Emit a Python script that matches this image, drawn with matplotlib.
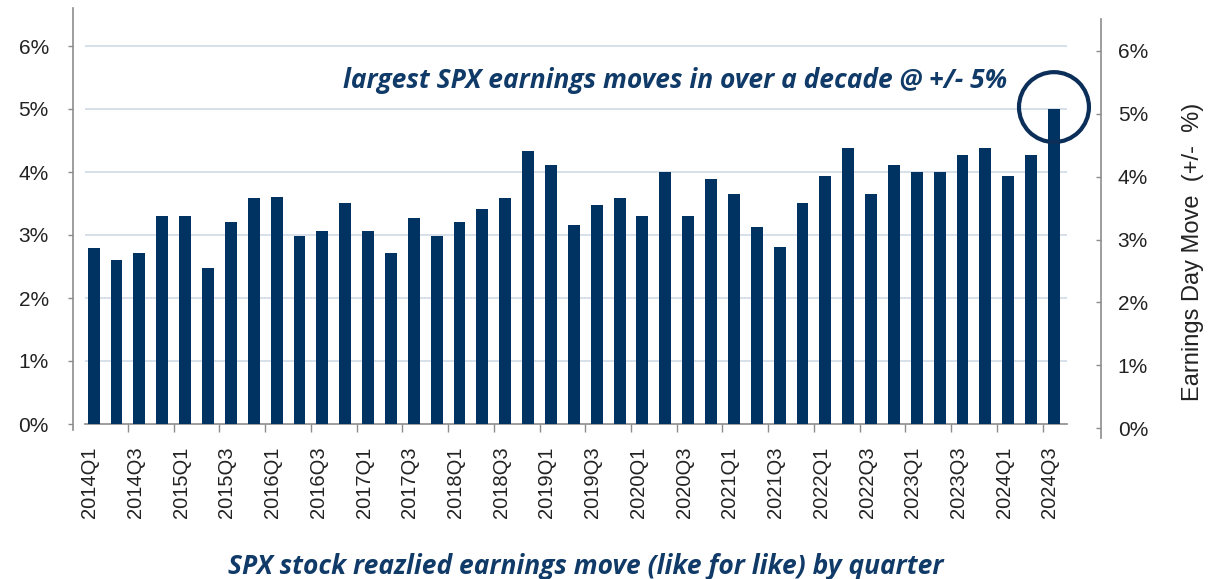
import matplotlib
matplotlib.use("Agg")
import matplotlib.pyplot as plt
import matplotlib.transforms as mtransforms
from matplotlib.patches import Ellipse
import numpy as np

# quarters 2014Q1 .. 2024Q3
quarters = [f"{y}Q{q}" for y in range(2014, 2025) for q in range(1, 5)][:43]

# avg realized earnings-day move (+/- %)
moves = [2.80, 2.61, 2.71, 3.30, 3.30, 2.47, 3.20, 3.58, 3.61, 2.99,
         3.06, 3.51, 3.06, 2.71, 3.27, 2.99, 3.20, 3.41, 3.58, 4.34,
         4.11, 3.16, 3.48, 3.58, 3.30, 4.00, 3.30, 3.89, 3.65, 3.13,
         2.81, 3.51, 3.93, 4.38, 3.65, 4.11, 4.00, 4.00, 4.27, 4.38,
         3.93, 4.27, 5.00]

pct_ticks = [0, 1, 2, 3, 4, 5, 6]
pct_labels = [f"{t}%" for t in pct_ticks]

title_txt = "largest SPX earnings moves in over a decade @ +/- 5%"
xlab_txt = "SPX stock reazlied earnings move (like for like) by quarter"
ylab_txt = "Earnings Day Move  (+/-  %)"

navy = "#003362"
txt_navy = "#103A68"
grey = "#8C8C8C"
grid_c = "#D4DEE8"
lab_c = "#222222"

plt.rcParams["font.family"] = ["Liberation Sans", "DejaVu Sans"]

W, H = 1211, 579
fig = plt.figure(figsize=(W / 100, H / 100), dpi=100)
ax = fig.add_axes([85 / W, 1 - 430.3 / H, (1067 - 85) / W, (430.3 - 8.2) / H])

x = np.arange(len(moves))
ax.bar(x, moves, width=0.52, color=navy, zorder=3)

ax.set_xlim(-0.38, 42.57)
ax.set_ylim(-0.1, 6.6)

# gridlines
for t in pct_ticks[1:]:
    ax.axhline(t, color=grid_c, lw=1.3, zorder=1)

# x axis: labels on Q1/Q3, tick marks between pairs
ax.set_xticks(x[::2])
ax.set_xticklabels(quarters[::2])
ax.set_xticks(np.arange(1.5, 42, 2), minor=True)
ax.tick_params(axis="x", which="major", length=0, pad=16,
               labelsize=14.5, labelrotation=90, labelcolor=lab_c)
ax.tick_params(axis="x", which="minor", length=5.5, width=1, color=grey)

ax.spines["bottom"].set_position(("data", 0))
ax.spines["bottom"].set_color(grey)
ax.spines["bottom"].set_linewidth(1.2)
ax.spines["top"].set_visible(False)
ax.spines["right"].set_visible(False)

# left axis
ax.spines["left"].set_position(("outward", 8.6))
ax.spines["left"].set_color(grey)
ax.spines["left"].set_linewidth(1.2)
ax.set_yticks(pct_ticks)
ax.set_yticklabels(pct_labels)
ax.tick_params(axis="y", length=3.5, width=1, color=grey, pad=14,
               labelsize=15, labelcolor=lab_c)

# right axis
ax2 = ax.twinx()
ax2.set_ylim(-0.032, 6.676)
ax2.set_yticks(pct_ticks)
ax2.set_yticklabels(pct_labels)
ax2.tick_params(axis="y", direction="in", length=3.5, width=1, color=grey,
                pad=12, labelsize=15, labelcolor=lab_c)
for s in ["left", "top", "bottom"]:
    ax2.spines[s].set_visible(False)
ax2.spines["right"].set_position(("outward", 24.5))
ax2.spines["right"].set_color(grey)
ax2.spines["right"].set_linewidth(1.2)
ax2.spines["right"].set_bounds(-0.15, 6.5)

# circle around latest bar
ring = Ellipse((x[-1], moves[-1] + 0.03), width=3.06, height=1.11, fill=False,
               edgecolor="#0B2F58", lw=3, zorder=5, clip_on=False)
ax.add_patch(ring)

fig.text(675 / W, 1 - 80 / H, title_txt, ha="center", va="center",
         fontsize=19, fontweight="bold", fontstyle="italic",
         family=["Open Sans", "DejaVu Sans"], color=txt_navy)
fig.text(586 / W, 1 - 566 / H, xlab_txt, ha="center", va="center",
         fontsize=19, fontweight="bold", fontstyle="italic",
         family=["Open Sans", "DejaVu Sans"], color=txt_navy)
fig.text(1193 / W, 1 - 252 / H, ylab_txt, ha="center", va="center",
         rotation=90, fontsize=17, color=lab_c)

# nudge quarter labels a little left, as in the source
fig.canvas.draw()
shift = mtransforms.ScaledTranslation(-4 / 100, 0, fig.dpi_scale_trans)
for lbl in ax.get_xticklabels():
    lbl.set_transform(lbl.get_transform() + shift)

fig.savefig("out.png", dpi=100)
